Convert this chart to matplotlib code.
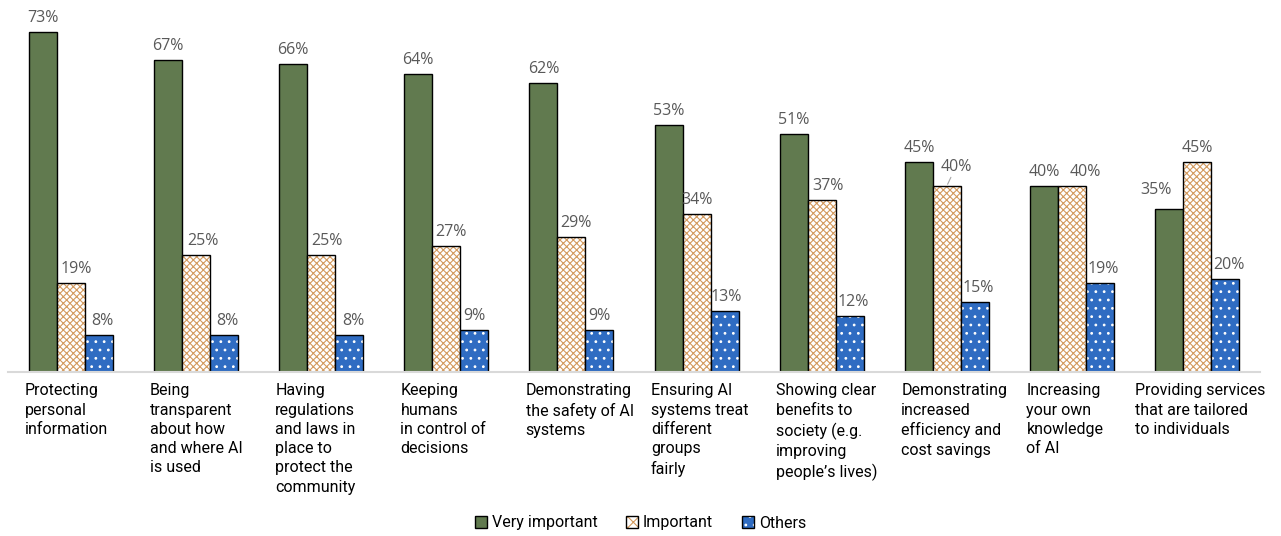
import matplotlib.pyplot as plt
from matplotlib.patches import Patch
import numpy as np

# survey categories and shares (%)
categories = [
    "Protecting\npersonal\ninformation",
    "Being\ntransparent\nabout how\nand where AI\nis used",
    "Having\nregulations\nand laws in\nplace to\nprotect the\ncommunity",
    "Keeping\nhumans\nin control of\ndecisions",
    "Demonstrating\nthe safety of AI\nsystems",
    "Ensuring AI\nsystems treat\ndifferent\ngroups\nfairly",
    "Showing clear\nbenefits to\nsociety (e.g.\nimproving\npeople\u2019s lives)",
    "Demonstrating\nincreased\nefficiency and\ncost savings",
    "Increasing\nyour own\nknowledge\nof AI",
    "Providing services\nthat are tailored\nto individuals",
]
very_important = [73, 67, 66, 64, 62, 53, 51, 45, 40, 35]
important = [19, 25, 25, 27, 29, 34, 37, 40, 40, 45]
others = [8, 8, 8, 9, 9, 13, 12, 15, 19, 20]
series_names = ["Very important", "Important", "Others"]

green = "#617A4F"
orange = "#D39A5E"
blue = "#2F6CC2"
label_grey = "#595959"
val_font = ['Open Sans', 'DejaVu Sans']

plt.rcParams['font.family'] = ['Roboto', 'DejaVu Sans']
plt.rcParams['hatch.linewidth'] = 0.8

fig = plt.figure(figsize=(12.81, 5.36), dpi=100)
ax = fig.add_axes([8 / 1281, 164 / 536, 1252 / 1281, 372 / 536])

x = np.arange(len(categories))
w = 0.224

def draw(xpos, vals, face, hatch_col, hatch):
    ax.bar(xpos, vals, w, color=face, edgecolor=hatch_col, hatch=hatch, linewidth=0)
    ax.bar(xpos, vals, w, fill=False, edgecolor="black", linewidth=1.0)

draw(x - w, very_important, green, green, None)
draw(x, important, "white", orange, "xxxxx")
draw(x + w, others, blue, "white", "..")

# value labels, shifts in pixels where Excel nudged them
def put(xpos, vals, shifts, leader=()):
    for i, v in enumerate(vals):
        dx, dy = shifts.get(i, (0, 0))
        props = None
        if i in leader:
            props = dict(arrowstyle="-", color="#A6A6A6", lw=0.8, shrinkA=0, shrinkB=1)
        ax.annotate(f"{v}%", (xpos[i], v), xytext=(dx * 0.72, (6 + dy) * 0.72),
                    textcoords="offset points", ha="center", va="bottom",
                    fontsize=11.5, color=label_grey, family=val_font, arrowprops=props)

put(x - w, very_important, {9: (-13, 5)})
put(x, important, {0: (6, 0), 1: (7, 0), 2: (6, 0), 3: (5, 0), 4: (5, 0),
                   6: (6, 0), 7: (9, 5), 8: (13, 0)}, leader=(7,))
put(x + w, others, {0: (4, 0), 1: (4, 0), 2: (4, 0), 5: (2, 0), 6: (3, 0),
                    7: (3, 0), 8: (3, 0), 9: (3, 0)})

ax.set_xlim(-0.5, len(categories) - 0.5)
ax.set_ylim(0, 79.8)
for s in ["top", "right", "left"]:
    ax.spines[s].set_visible(False)
ax.spines["bottom"].set_color("#D9D9D9")
ax.spines["bottom"].set_linewidth(1.5)
ax.set_yticks([])
ax.set_xticks([])

# category labels, left aligned under the first bar
for i, lab in enumerate(categories):
    xl = i - 1.5 * w - 0.03 if i < len(categories) - 1 else i - 0.5
    ax.text(xl, -2.4, lab, ha="left", va="top", fontsize=11.5,
            linespacing=1.36, color="black")

edge = Patch(facecolor="none", edgecolor="black", linewidth=1.0)
handles = [
    (Patch(facecolor=green, linewidth=0), edge),
    (Patch(facecolor="white", edgecolor=orange, hatch="xxx", linewidth=0), edge),
    (Patch(facecolor=blue, edgecolor="white", hatch="..", linewidth=0), edge),
]
fig.legend(handles, series_names, loc="center", bbox_to_anchor=(0.5, 1 - 523 / 536),
           ncol=3, frameon=False, fontsize=11.5, handlelength=0.75, handleheight=0.75,
           columnspacing=1.8, handletextpad=0.3)

fig.savefig("out.png", dpi=100)
